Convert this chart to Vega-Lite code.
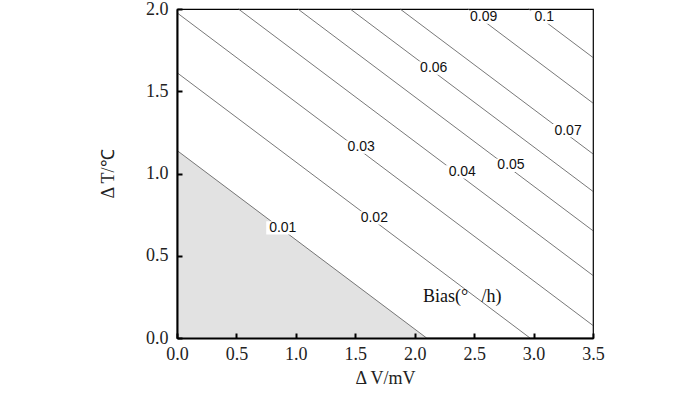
{
  "$schema": "https://vega.github.io/schema/vega-lite/v6.json",
  "autosize": "none",
  "width": 416,
  "height": 329,
  "padding": {"left": 177, "top": 9, "right": 107, "bottom": 55},
  "background": "white",
  "config": {
    "view": {"stroke": "black", "strokeWidth": 1.2},
    "axis": {
      "domainColor": "black",
      "domainWidth": 2,
      "tickColor": "black",
      "tickWidth": 2,
      "tickSize": -5,
      "grid": false,
      "labelFlush": false,
      "labelFont": "Liberation Serif",
      "labelFontSize": 18,
      "labelColor": "#222",
      "titleFont": "Liberation Serif",
      "titleFontSize": 18,
      "titleFontWeight": "normal",
      "titleColor": "#222"
    }
  },
  "datasets": {
    "shade": [
      {"V": 0, "T": 1.14},
      {"V": 2.1, "T": 0}
    ],
    "lines": [
      {"bias": "0.01", "V": 0, "T": 1.14}, {"bias": "0.01", "V": 2.1, "T": 0},
      {"bias": "0.02", "V": 0, "T": 1.613}, {"bias": "0.02", "V": 2.97, "T": 0},
      {"bias": "0.03", "V": 0, "T": 1.977}, {"bias": "0.03", "V": 3.5, "T": 0.076},
      {"bias": "0.04", "V": 0.517, "T": 2.0}, {"bias": "0.04", "V": 3.5, "T": 0.38},
      {"bias": "0.05", "V": 1.017, "T": 2.0}, {"bias": "0.05", "V": 3.5, "T": 0.652},
      {"bias": "0.06", "V": 1.457, "T": 2.0}, {"bias": "0.06", "V": 3.5, "T": 0.891},
      {"bias": "0.07", "V": 1.877, "T": 2.0}, {"bias": "0.07", "V": 3.5, "T": 1.119},
      {"bias": "0.09", "V": 2.447, "T": 2.0}, {"bias": "0.09", "V": 3.5, "T": 1.428},
      {"bias": "0.1", "V": 2.957, "T": 2.0}, {"bias": "0.1", "V": 3.5, "T": 1.705}
    ],
    "labels": [
      {"bias": "0.01", "V": 0.89, "T": 0.67},
      {"bias": "0.02", "V": 1.66, "T": 0.73},
      {"bias": "0.03", "V": 1.55, "T": 1.16},
      {"bias": "0.04", "V": 2.40, "T": 1.01},
      {"bias": "0.05", "V": 2.81, "T": 1.05},
      {"bias": "0.06", "V": 2.16, "T": 1.64},
      {"bias": "0.07", "V": 3.29, "T": 1.26},
      {"bias": "0.09", "V": 2.58, "T": 1.95},
      {"bias": "0.1", "V": 3.09, "T": 1.95}
    ],
    "note": [
      {"text": "Bias(°\u00a0\u00a0\u00a0/h)", "V": 2.40, "T": 0.25}
    ]
  },
  "layer": [
    {
      "data": {"name": "shade"},
      "mark": {"type": "area", "color": "#e2e2e2"},
      "encoding": {
        "x": {
          "field": "V", "type": "quantitative",
          "scale": {"domain": [0, 3.5], "nice": false, "zero": false},
          "axis": {"values": [0, 0.5, 1, 1.5, 2, 2.5, 3, 3.5], "format": ".1f", "title": "Δ V/mV", "labelPadding": 12, "titlePadding": 6, "zindex": 2}
        },
        "y": {
          "field": "T", "type": "quantitative",
          "scale": {"domain": [0, 2], "nice": false, "zero": false},
          "axis": {"values": [0, 0.5, 1, 1.5, 2], "format": ".1f", "title": "Δ T/℃", "labelPadding": 14, "titlePadding": 28, "zindex": 2}
        }
      }
    },
    {
      "data": {"name": "lines"},
      "mark": {"type": "line", "color": "#555", "strokeWidth": 0.8},
      "encoding": {
        "x": {"field": "V", "type": "quantitative"},
        "y": {"field": "T", "type": "quantitative"},
        "detail": {"field": "bias"}
      }
    },
    {
      "data": {"name": "labels"},
      "mark": {"type": "point", "shape": "M-1,-0.4L1,-0.4L1,0.4L-1,0.4Z", "size": 1100, "filled": true, "color": "white", "opacity": 1, "strokeWidth": 0},
      "encoding": {
        "x": {"field": "V", "type": "quantitative"},
        "y": {"field": "T", "type": "quantitative"}
      }
    },
    {
      "data": {"name": "labels"},
      "mark": {"type": "text", "font": "Liberation Sans", "fontSize": 14, "color": "#111", "align": "center", "baseline": "middle"},
      "encoding": {
        "x": {"field": "V", "type": "quantitative"},
        "y": {"field": "T", "type": "quantitative"},
        "text": {"field": "bias"}
      }
    },
    {
      "data": {"name": "note"},
      "mark": {"type": "text", "font": "Liberation Serif", "fontSize": 18, "color": "#111", "align": "center", "baseline": "middle"},
      "encoding": {
        "x": {"field": "V", "type": "quantitative"},
        "y": {"field": "T", "type": "quantitative"},
        "text": {"field": "text"}
      }
    }
  ]
}
